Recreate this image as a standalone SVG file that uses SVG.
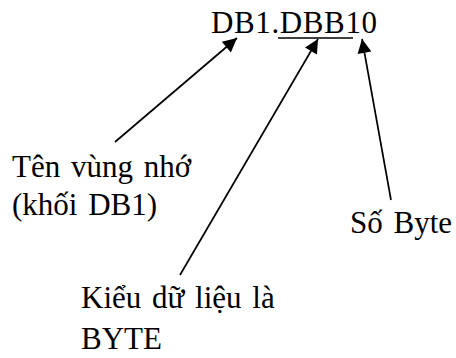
<svg xmlns="http://www.w3.org/2000/svg" width="456" height="358" viewBox="0 0 456 358">
  <style>
    .t { font-family: "Liberation Serif", "Times New Roman", serif; font-size: 31px; fill: #000; word-spacing: 3px; }
    .c { stroke: #000; stroke-width: 1.7; fill: none; marker-end: url(#arrow); }
  </style>
  <defs>
    <marker id="arrow" viewBox="0 0 10 10" refX="10" refY="5" markerUnits="userSpaceOnUse" markerWidth="16" markerHeight="14" orient="auto">
      <path d="M0,0 L10,5 L0,10 z" fill="#000"/>
    </marker>
  </defs>
  <rect width="456" height="358" fill="#fff"/>

  <g id="address">
    <text class="t" x="211" y="33" textLength="166" lengthAdjust="spacing">DB1.DBB10</text>
    <line x1="278" y1="38" x2="353" y2="38" stroke="#000" stroke-width="1.7"/>
  </g>
  <g id="area-name">
    <text class="t" x="12" y="177">Tên vùng nhớ</text>
    <text class="t" x="12" y="215">(khối DB1)</text>
  </g>
  <g id="byte-number">
    <text class="t" x="350" y="233">Số Byte</text>
  </g>
  <g id="data-type">
    <text class="t" x="81" y="308">Kiểu dữ liệu là</text>
    <text class="t" x="81" y="349">BYTE</text>
  </g>

  <g id="connectors">
    <line class="c" x1="115" y1="142" x2="237" y2="38"/>
    <line class="c" x1="180" y1="275" x2="318" y2="39"/>
    <line class="c" x1="391" y1="200" x2="362" y2="39"/>
  </g>
</svg>
